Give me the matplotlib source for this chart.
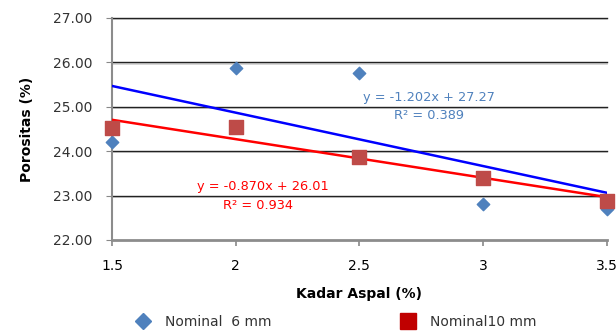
import matplotlib
matplotlib.use("Agg")
import matplotlib.pyplot as plt
from matplotlib.lines import Line2D
import numpy as np

kadar = [1.5, 2.0, 2.5, 3.0, 3.5]
nominal6 = [24.20, 25.87, 25.77, 22.80, 22.70]
nominal10 = [24.52, 24.55, 23.87, 23.40, 22.87]
trend6 = (-1.202, 27.27)
trend10 = (-0.870, 26.01)
eq6 = "y = -1.202x + 27.27"
r6 = "R² = 0.389"
eq10 = "y = -0.870x + 26.01"
r10 = "R² = 0.934"
xticks = [1.5, 2, 2.5, 3, 3.5]
yticks = [22, 23, 24, 25, 26, 27]

plt.rcParams['font.family'] = ['DejaVu Sans']
fig = plt.figure(figsize=(6.16, 3.31), dpi=100)
ax = fig.add_axes([0.182, 0.275, 0.803, 0.671])

ax.set_xlim(1.5, 3.5)
ax.set_ylim(22, 27)

for yv in yticks[1:]:
    ax.plot([0, 1], [yv - 0.03, yv - 0.03], color='#d0d0d0', lw=1.2, zorder=0.9,
            transform=ax.get_yaxis_transform(), clip_on=False)
    ax.plot([0, 1], [yv, yv], color='#222222', lw=1.0, zorder=1,
            transform=ax.get_yaxis_transform(), clip_on=False)

xs = np.array([kadar[0], kadar[-1]])
ax.plot(xs, trend6[0] * xs + trend6[1], color='#0000ff', lw=1.8, zorder=3)
ax.plot(xs, trend10[0] * xs + trend10[1], color='#ff0000', lw=1.8, zorder=3)

ax.scatter(kadar, nominal6, marker='D', s=40, color='#4f81bd', zorder=4, clip_on=False)
ax.scatter(kadar, nominal10, marker='s', s=110, color='#be4b48', zorder=5, clip_on=False)

ax.text(2.78, 25.21, eq6, color='#4f81bd', fontsize=9.3, ha='center', va='center')
ax.text(2.78, 24.80, r6, color='#4f81bd', fontsize=9.3, ha='center', va='center')
ax.text(2.11, 23.20, eq10, color='#ff0000', fontsize=9.3, ha='center', va='center')
ax.text(2.09, 22.77, r10, color='#ff0000', fontsize=9.3, ha='center', va='center')

ax.set_xticks(xticks)
ax.set_xticklabels(['1.5', '2', '2.5', '3', '3.5'], fontsize=10)
ax.set_yticks(yticks)
ax.set_yticklabels([f"{v:.2f}" for v in yticks], fontsize=10, color='#333333')
ax.tick_params(axis='y', length=4, color='#888888', pad=10)
ax.tick_params(axis='x', length=4, width=1.2, color='#888888', pad=10)

for s in ['top', 'right']:
    ax.spines[s].set_visible(False)
ax.spines['left'].set_color('#8c8c8c')
ax.spines['left'].set_linewidth(1.5)
ax.spines['bottom'].set_color('#8c8c8c')
ax.spines['bottom'].set_linewidth(2.0)

ax.set_xlabel('Kadar Aspal (%)', fontsize=10, fontweight='bold', labelpad=10)
ax.set_ylabel('Porositas (%)', fontsize=10, fontweight='bold', labelpad=14)

handles = [
    Line2D([], [], marker='D', color='#4f81bd', linestyle='none', markersize=8),
    Line2D([], [], marker='s', color='#c00000', linestyle='none', markersize=11),
]
fig.legend(handles, ['Nominal  6 mm', 'Nominal10 mm'], loc='center',
           bbox_to_anchor=(0.54, 0.028), ncol=2, frameon=False, fontsize=10,
           columnspacing=8.8, handletextpad=0.6, labelcolor='#333333')

fig.savefig('out.png', dpi=100)
